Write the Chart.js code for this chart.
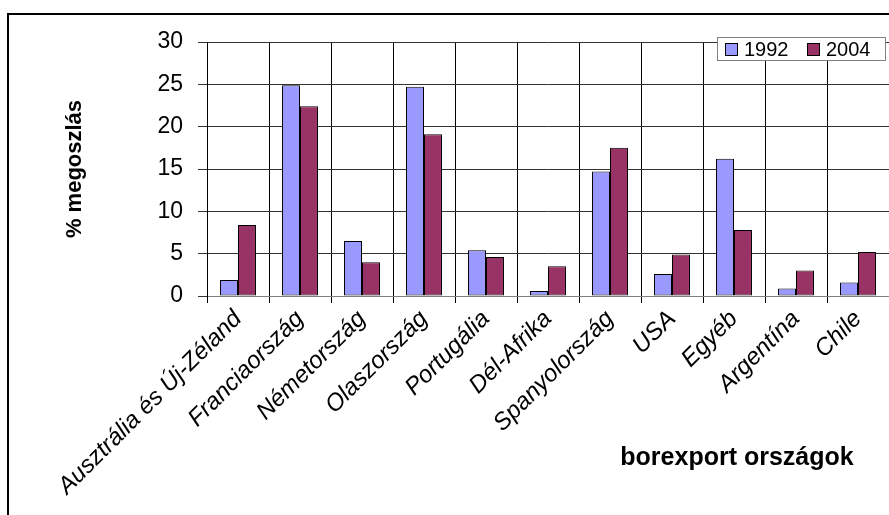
<!DOCTYPE html>
<html>
<head>
<meta charset="utf-8">
<title>borexport országok</title>
<script src="https://cdn.jsdelivr.net/npm/chart.js@4"></script>
<style>
  body { margin: 0; background: #fff; }
  #wrap { width: 889px; height: 515px; }
</style>
</head>
<body>
<div id="wrap"><canvas id="myChart" width="889" height="515"></canvas></div>
<script>
'use strict';

let countries = ['Ausztrália és Új-Zéland', 'Franciaország', 'Németország', 'Olaszország', 'Portugália', 'Dél-Afrika', 'Spanyolország', 'USA', 'Egyéb', 'Argentína', 'Chile'];
let share1992 = [1.9, 24.9, 6.5, 24.7, 5.4, 0.6, 14.7, 2.6, 16.2, 0.9, 1.6];
let share2004 = [8.4, 22.4, 4.0, 19.1, 4.6, 3.5, 17.5, 4.9, 7.8, 3.0, 5.2];
let yearLabels = ['1992', '2004'];
let yTicks = [0, 5, 10, 15, 20, 25, 30];

let fontFamily = 'Arial, "Liberation Sans", sans-serif';

// frame line, x title and the boxed legend are drawn by hand
let decorations = {
    id: 'decorations',
    afterDraw(chart) {
        let ctx = chart.ctx;
        ctx.save();
        ctx.strokeStyle = '#000';
        ctx.lineWidth = 2;
        ctx.beginPath();
        ctx.moveTo(8, 515);
        ctx.lineTo(8, 14);
        ctx.lineTo(889, 14);
        ctx.stroke();

        ctx.fillStyle = '#000';
        ctx.font = 'bold 25px ' + fontFamily;
        ctx.textAlign = 'center';
        ctx.textBaseline = 'middle';
        ctx.fillText('borexport országok', 737, 458);

        // legend box
        ctx.fillStyle = '#fff';
        ctx.fillRect(717, 37, 168, 23);
        ctx.strokeStyle = '#808080';
        ctx.lineWidth = 1;
        ctx.strokeRect(717.5, 37.5, 168, 23);
        ctx.font = '20px ' + fontFamily;
        ctx.textAlign = 'left';
        let xs = [725, 807];
        chart.data.datasets.forEach(function (ds, i) {
            ctx.fillStyle = ds.backgroundColor;
            ctx.fillRect(xs[i], 43, 12, 12);
            ctx.strokeStyle = '#000';
            ctx.strokeRect(xs[i] + 0.5, 43.5, 12, 12);
            ctx.fillStyle = '#000';
            ctx.fillText(ds.label, xs[i] + 19, 50);
        });
        ctx.restore();
    }
};

let ctx = document.getElementById('myChart').getContext('2d');
let myChart = new Chart(ctx, {
    type: 'bar',
    data: {
        labels: countries,
        datasets: [{
            label: yearLabels[0],
            data: share1992,
            backgroundColor: '#9999FF',
            borderColor: '#000',
            borderWidth: 1,
            borderSkipped: false
        }, {
            label: yearLabels[1],
            data: share2004,
            backgroundColor: '#993366',
            borderColor: '#000',
            borderWidth: 1,
            borderSkipped: false
        }]
    },
    options: {
        responsive: false,
        animation: false,
        events: [],
        layout: {
            padding: { top: 42, left: 62, right: 0, bottom: 0 }
        },
        datasets: {
            bar: { barPercentage: 1, categoryPercentage: 0.58 }
        },
        plugins: {
            legend: { display: false },
            tooltip: { enabled: false }
        },
        scales: {
            x: {
                offset: true,
                grid: {
                    offset: true,
                    color: '#000',
                    lineWidth: 1,
                    tickLength: 7,
                    drawOnChartArea: true
                },
                border: { display: true, color: '#808080' },
                ticks: {
                    autoSkip: false,
                    minRotation: 45,
                    maxRotation: 45,
                    padding: 2,
                    color: '#000',
                    font: { family: fontFamily, size: 24, style: 'italic' }
                },
                afterFit(scale) {
                    scale.height = 219;
                }
            },
            y: {
                min: 0,
                max: 30,
                afterBuildTicks(scale) {
                    scale.ticks = yTicks.map(function (v) { return { value: v }; });
                },
                grid: {
                    color: '#333',
                    lineWidth: 1,
                    tickLength: 9
                },
                border: { display: true, color: '#000' },
                ticks: {
                    padding: 15,
                    color: '#000',
                    font: { family: fontFamily, size: 23 }
                },
                title: {
                    display: true,
                    text: '% megoszlás',
                    color: '#000',
                    padding: 0,
                    font: { family: fontFamily, size: 22, weight: 'bold' }
                },
                afterFit(scale) {
                    scale.width = 207 - 62;
                }
            }
        }
    },
    plugins: [decorations]
});
</script>
</body>
</html>
